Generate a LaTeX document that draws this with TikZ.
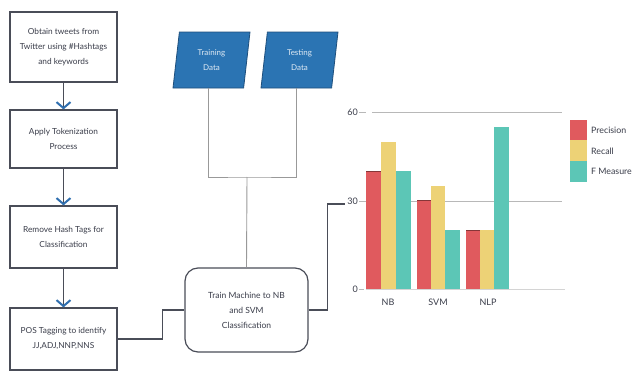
\documentclass[tikz,border=0pt]{standalone}
\usepackage{fontspec}
\setmainfont{Lato}
\usetikzlibrary{arrows.meta,shapes.geometric}
\definecolor{boxline}{HTML}{4A4D58}
\definecolor{arrowblue}{HTML}{2F6FB0}
\definecolor{parafill}{HTML}{2B74B3}
\definecolor{paraline}{HTML}{1E4F7C}
\definecolor{txt}{HTML}{3A3D4A}
\definecolor{barred}{HTML}{E05A5E}
\definecolor{baryel}{HTML}{EDD276}
\definecolor{barteal}{HTML}{5CC6B6}
\definecolor{grid}{HTML}{B8B8B8}
\begin{document}
\begin{tikzpicture}[x=1pt,y=-1pt,
  stepbox/.style={draw=boxline,line width=1.2pt,minimum width=107pt,align=center,text=txt,
    font=\fontsize{8.3}{15}\selectfont,inner sep=2pt},
  flowarrow/.style={draw=boxline,line width=1.2pt,-{Straight Barb[length=6pt,width=14pt,line width=2pt,color=arrowblue]}},
  databox/.style={trapezium,trapezium left angle=73,trapezium right angle=107,trapezium stretches body,
    minimum width=77pt,minimum height=56pt,fill=parafill,draw=paraline,line width=0.8pt,
    text=white!85!parafill,align=center,font=\fontsize{8}{15}\selectfont,inner sep=0pt},
  trainbox/.style={draw=boxline,line width=1.2pt,rounded corners=13pt,minimum width=123pt,minimum height=84pt,
    align=center,text=txt,font=\fontsize{8.5}{15}\selectfont},
  grayline/.style={draw=gray!80,line width=0.9pt},
  darkline/.style={draw=boxline,line width=1.2pt},
  axlabel/.style={text=txt,font=\fontsize{9}{10}\selectfont,inner sep=1pt},
  leglabel/.style={text=txt,font=\fontsize{8.8}{9}\selectfont,anchor=west,inner sep=0pt}
]
\useasboundingbox (0,0) rectangle (641,372);
\fill[white] (0,0) rectangle (641,372);

% left column
\node[stepbox,minimum height=70pt] (b1) at (63.5,47) {Obtain tweets from\\Twitter using \#Hashtags\\and keywords};
\node[stepbox,minimum height=58pt] (b2) at (63.5,139) {Apply Tokenization\\Process};
\node[stepbox,minimum height=62pt] (b3) at (63.5,237) {Remove Hash Tags for\\Classification};
\node[stepbox,minimum height=62pt] (b4) at (63.5,339) {POS Tagging to identify\\JJ,ADJ,NNP,NNS};
\draw[flowarrow] (b1) -- (b2);
\draw[flowarrow] (b2) -- (b3);
\draw[flowarrow] (b3) -- (b4);

% data inputs
\node[databox] (tr) at (211.5,60) {Training\\Data};
\node[databox] (te) at (299.5,60) {Testing\\Data};
\coordinate (j) at (247,177);
\node[trainbox] (train) at (246.5,310) {Train Machine to NB\\and SVM\\Classification};
\draw[grayline] (tr.bottom side) |- (j) -| (te.bottom side);
\draw[grayline] (j) -- (train.north);

\draw[darkline] (b4.east) -- ++(45,0) |- (train.west);
\coordinate (c30) at (345,204);
\draw[darkline] (train.east) -- ++(19,0) |- (c30);

% chart
\draw[grid,line width=0.7pt] (372,112) -- (562,112);
\draw[grid,line width=0.7pt] (372,201) -- (562,201);
\draw[grid!60,line width=0.6pt] (366,289) -- (565,289);
\node[axlabel,anchor=east] (l60) at (359,112) {60};
\node[axlabel,anchor=east] (l30) at (359,201) {30};
\node[axlabel,anchor=east] (l0) at (359,289) {0};
\draw[grid,line width=0.6pt] (l60.east) -- ++(7,0);
\draw[grid,line width=0.6pt] (l30.east) -- ++(7,0);
\draw[grid,line width=0.6pt] (l0.east) -- ++(5,0);

% bars: y = 289 - v*2.95
\fill[barred]  (366,289) rectangle (381,171);
\fill[baryel]  (381,289) rectangle (396,141.5);
\fill[barteal] (396,289) rectangle (411,171);
\fill[barred]  (417,289) rectangle (431,200.5);
\fill[baryel]  (431,289) rectangle (445,185.8);
\fill[barteal] (445,289) rectangle (460,230);
\fill[barred]  (466,289) rectangle (480,230);
\fill[baryel]  (480,289) rectangle (494,230);
\fill[barteal] (494,289) rectangle (509,126.8);
\draw[barred!60!black,line width=0.8pt] (366,171) -- (381,171);
\draw[barred!60!black,line width=0.8pt] (417,200.5) -- (431,200.5);
\draw[barred!60!black,line width=0.8pt] (466,230) -- (480,230);

\node[axlabel] (xnb) at (388,302) {NB};
\node[axlabel] (xsvm) at (438,302) {SVM};
\node[axlabel] (xnlp) at (488,302) {NLP};

% legend
\fill[barred]  (570,120) rectangle (587,140);
\fill[baryel]  (570,140) rectangle (587,161);
\fill[barteal] (570,161) rectangle (587,182);
\node[leglabel] (lp) at (591,130) {Precision};
\node[leglabel] (lr) at (591,151) {Recall};
\node[leglabel] (lf) at (591,171) {F Measure};
\end{tikzpicture}
\end{document}
